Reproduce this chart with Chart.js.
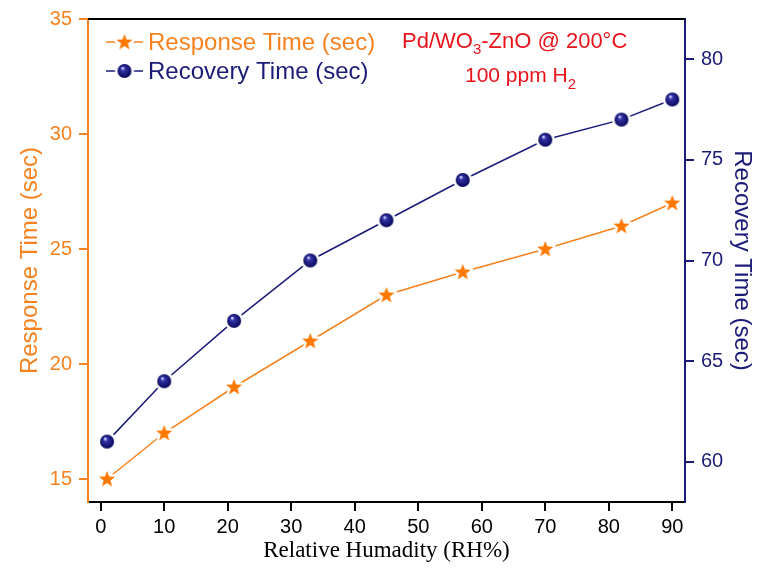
<!DOCTYPE html>
<html lang="en">
<head>
<meta charset="UTF-8">
<title>Response / Recovery Time vs Relative Humidity</title>
<script src="https://cdn.jsdelivr.net/npm/chart.js"></script>
<style>
  html, body { margin: 0; padding: 0; background: #fff; }
  #wrap { width: 760px; height: 572px; }
</style>
</head>
<body>
<div id="wrap"><canvas id="rhChart" width="760" height="572"></canvas></div>
<script>
    // data
    const humidity = [1, 10, 21, 33, 45, 57, 70, 82, 90];
    const responseTime = [15, 17, 19, 21, 23, 24, 25, 26, 27];
    const recoveryTime = [61, 64, 67, 70, 72, 74, 76, 77, 78];
    const xTicks = [0, 10, 20, 30, 40, 50, 60, 70, 80, 90];
    const leftTicks = [15, 20, 25, 30, 35];
    const rightTicks = [60, 65, 70, 75, 80];

    const ORANGE = '#f5821f';
    const ORANGE_MARK = '#ff7800';
    const NAVY = '#1b1b78';
    const RED = '#e8141c';
    const SANS = "'Liberation Sans', Arial, sans-serif";
    const SERIF = "'Liberation Serif', 'Times New Roman', serif";

    // star marker with a white halo (line stops short of the marker)
    function makeStar() {
        const c = document.createElement('canvas');
        c.width = 24; c.height = 24;
        const g = c.getContext('2d');
        const ro = 8.5, ri = 3.6, cx = 12, cy = 12.5;
        g.beginPath();
        for (let i = 0; i < 10; i++) {
            const r = i % 2 === 0 ? ro : ri;
            const a = -Math.PI / 2 + i * Math.PI / 5;
            g.lineTo(cx + r * Math.cos(a), cy + r * Math.sin(a));
        }
        g.closePath();
        g.strokeStyle = '#fff';
        g.lineWidth = 5;
        g.lineJoin = 'round';
        g.stroke();
        g.fillStyle = ORANGE_MARK;
        g.fill();
        return c;
    }

    // shaded navy ball marker
    function makeBall() {
        const c = document.createElement('canvas');
        c.width = 22; c.height = 22;
        const g = c.getContext('2d');
        g.beginPath();
        g.arc(11, 11, 9.5, 0, Math.PI * 2);
        g.fillStyle = '#fff';
        g.fill();
        const grad = g.createRadialGradient(9, 8, 0.5, 11, 11, 7);
        grad.addColorStop(0, '#d8d8ff');
        grad.addColorStop(0.25, '#3434a8');
        grad.addColorStop(1, '#08085a');
        g.beginPath();
        g.arc(11, 11, 7, 0, Math.PI * 2);
        g.fillStyle = grad;
        g.fill();
        return c;
    }

    const starImg = makeStar();
    const ballImg = makeBall();

    // top frame line, in-plot legend and the label text
    const extras = {
        id: 'extras',
        afterDraw(chart) {
            const ctx = chart.ctx;
            const a = chart.chartArea;
            ctx.save();
            ctx.strokeStyle = '#000';
            ctx.lineWidth = 2;
            ctx.beginPath();
            ctx.moveTo(a.left, a.top);
            ctx.lineTo(a.right, a.top);
            ctx.stroke();

            // legend
            const rows = [
                { y: 42, color: ORANGE, img: starImg, text: 'Response Time (sec)' },
                { y: 71, color: NAVY, img: ballImg, text: 'Recovery Time (sec)' }
            ];
            ctx.font = '24px ' + SANS;
            ctx.textBaseline = 'middle';
            rows.forEach(r => {
                ctx.strokeStyle = r.color;
                ctx.lineWidth = 1.5;
                ctx.beginPath();
                ctx.moveTo(106, r.y);
                ctx.lineTo(143, r.y);
                ctx.stroke();
                ctx.drawImage(r.img, 124.5 - r.img.width / 2, r.y - r.img.height / 2);
                ctx.fillStyle = r.color;
                ctx.fillText(r.text, 148, r.y + 1);
            });

            // annotation
            ctx.fillStyle = RED;
            ctx.textBaseline = 'alphabetic';
            let x = 402;
            ctx.font = '22px ' + SANS;
            ctx.fillText('Pd/WO', x, 48);
            x += ctx.measureText('Pd/WO').width;
            ctx.font = '15px ' + SANS;
            ctx.fillText('3', x, 54);
            x += ctx.measureText('3').width;
            ctx.font = '22px ' + SANS;
            ctx.fillText('-ZnO @ 200\u00B0C', x, 48);

            x = 465;
            ctx.font = '21px ' + SANS;
            ctx.fillText('100 ppm H', x, 82);
            x += ctx.measureText('100 ppm H').width;
            ctx.font = '15px ' + SANS;
            ctx.fillText('2', x, 89);
            ctx.restore();
        }
    };

    const ctx = document.getElementById('rhChart').getContext('2d');
    window.rhChart = new Chart(ctx, {
        type: 'line',
        data: {
            datasets: [{
                label: 'Response Time (sec)',
                data: humidity.map((h, i) => ({ x: h, y: responseTime[i] })),
                yAxisID: 'yL',
                borderColor: ORANGE,
                borderWidth: 1.5,
                pointStyle: starImg,
                tension: 0,
                fill: false
            }, {
                label: 'Recovery Time (sec)',
                data: humidity.map((h, i) => ({ x: h, y: recoveryTime[i] })),
                yAxisID: 'yR',
                borderColor: NAVY,
                borderWidth: 1.5,
                pointStyle: ballImg,
                tension: 0,
                fill: false
            }]
        },
        options: {
            responsive: false,
            animation: false,
            devicePixelRatio: 1,
            layout: { padding: { top: 15, left: 0, right: 0, bottom: 0 } },
            plugins: {
                legend: { display: false },
                tooltip: { enabled: false }
            },
            scales: {
                x: {
                    type: 'linear',
                    position: 'bottom',
                    min: -2,
                    max: 92,
                    afterBuildTicks: s => { s.ticks = xTicks.map(v => ({ value: v })); },
                    afterFit: s => { s.height = 70; },
                    border: { color: '#000', width: 2 },
                    grid: { drawOnChartArea: false, color: '#000', lineWidth: 2, tickLength: 9 },
                    ticks: { color: '#000', font: { family: SANS, size: 20 }, padding: 4, autoSkip: false, maxRotation: 0 },
                    title: {
                        display: true,
                        text: 'Relative Humadity (RH%)',
                        color: '#000',
                        font: { family: SERIF, size: 23 },
                        padding: { top: 0, bottom: 7 }
                    }
                },
                yL: {
                    type: 'linear',
                    position: 'left',
                    min: 14,
                    max: 35,
                    afterBuildTicks: s => { s.ticks = leftTicks.map(v => ({ value: v })); },
                    afterFit: s => { s.width = 88; },
                    border: { color: ORANGE, width: 2 },
                    grid: { drawOnChartArea: false, color: ORANGE, lineWidth: 2, tickLength: 9 },
                    ticks: { color: ORANGE, font: { family: SANS, size: 20 }, padding: 7 },
                    title: {
                        display: true,
                        text: 'Response Time (sec)',
                        color: ORANGE,
                        font: { family: SANS, size: 24 },
                        padding: { top: 16, bottom: 0 }
                    }
                },
                yR: {
                    type: 'linear',
                    position: 'right',
                    min: 58,
                    max: 82,
                    afterBuildTicks: s => { s.ticks = rightTicks.map(v => ({ value: v })); },
                    afterFit: s => { s.width = 75; },
                    border: { color: NAVY, width: 2 },
                    grid: { drawOnChartArea: false, color: NAVY, lineWidth: 2, tickLength: 9 },
                    ticks: { color: NAVY, font: { family: SANS, size: 20 }, padding: 7 },
                    title: {
                        display: true,
                        text: 'Recovery Time (sec)',
                        color: NAVY,
                        font: { family: SANS, size: 24 },
                        padding: { top: 4, bottom: 0 }
                    }
                }
            }
        },
        plugins: [extras]
    });
</script>
</body>
</html>
